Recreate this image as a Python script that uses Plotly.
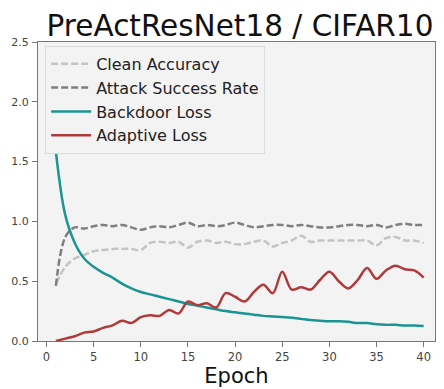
import plotly.graph_objects as go

epochs = list(range(1, 41))

clean_acc = [0.48, 0.62, 0.69, 0.72, 0.75, 0.76, 0.77, 0.77, 0.77, 0.76,
             0.82, 0.83, 0.82, 0.83, 0.78, 0.83, 0.84, 0.82, 0.83, 0.81,
             0.81, 0.83, 0.84, 0.79, 0.82, 0.84, 0.88, 0.83, 0.84, 0.84,
             0.84, 0.84, 0.84, 0.84, 0.80, 0.86, 0.87, 0.84, 0.84, 0.82]

attack_sr = [0.46, 0.87, 0.95, 0.94, 0.96, 0.97, 0.96, 0.97, 0.95, 0.93,
             0.95, 0.96, 0.95, 0.97, 0.99, 0.96, 0.97, 0.96, 0.97, 0.99,
             0.97, 0.95, 0.96, 0.97, 0.97, 0.96, 0.97, 0.96, 0.95, 0.95,
             0.96, 0.97, 0.97, 0.96, 0.97, 0.95, 0.97, 0.98, 0.97, 0.97]

backdoor_loss = [1.58, 1.05, 0.82, 0.69, 0.62, 0.57, 0.53, 0.48, 0.44, 0.41,
                 0.39, 0.37, 0.35, 0.33, 0.31, 0.295, 0.28, 0.265, 0.25, 0.24,
                 0.23, 0.22, 0.21, 0.205, 0.20, 0.195, 0.185, 0.175, 0.17, 0.165,
                 0.165, 0.16, 0.15, 0.15, 0.14, 0.135, 0.135, 0.13, 0.13, 0.125]

adaptive_loss = [0.0, 0.02, 0.04, 0.07, 0.08, 0.11, 0.13, 0.17, 0.15, 0.20,
                 0.215, 0.21, 0.26, 0.23, 0.33, 0.30, 0.315, 0.28, 0.40, 0.37,
                 0.33, 0.41, 0.47, 0.40, 0.58, 0.43, 0.45, 0.43, 0.51, 0.58,
                 0.50, 0.44, 0.51, 0.61, 0.52, 0.59, 0.63, 0.60, 0.59, 0.53]

x_ticks = [0, 5, 10, 15, 20, 25, 30, 35, 40]
y_ticks = [0.0, 0.5, 1.0, 1.5, 2.0, 2.5]

FONT = "DejaVu Sans"

fig = go.Figure()
fig.add_trace(go.Scatter(x=epochs, y=clean_acc, mode="lines", name="Clean Accuracy",
                         line=dict(color="#c4c4c4", width=2.5, dash="7px,3px", shape="spline")))
fig.add_trace(go.Scatter(x=epochs, y=attack_sr, mode="lines", name="Attack Success Rate",
                         line=dict(color="#7f7f7f", width=2.5, dash="7px,3px", shape="spline")))
fig.add_trace(go.Scatter(x=epochs, y=backdoor_loss, mode="lines", name="Backdoor Loss",
                         line=dict(color="#1b9494", width=2.5, shape="spline")))
fig.add_trace(go.Scatter(x=epochs, y=adaptive_loss, mode="lines", name="Adaptive Loss",
                         line=dict(color="#b03a3a", width=2.5, shape="spline")))

fig.update_layout(
    width=444, height=389,
    margin=dict(l=38, r=8, t=42, b=46),
    paper_bgcolor="white",
    plot_bgcolor="#f3f3f3",
    font=dict(family=FONT, color="#444"),
    title=dict(text="PreActResNet18 / CIFAR10", x=240/444, xanchor="center",
               y=(389-26)/389, yanchor="middle",
               font=dict(family=FONT, size=29.5, color="#111")),
    showlegend=True,
    legend=dict(x=0.018, y=0.987, xanchor="left", yanchor="top",
                bgcolor="#f3f3f3", bordercolor="#dadada", borderwidth=1,
                font=dict(family=FONT, size=16, color="#222"),
                itemwidth=40, tracegroupgap=0),
)
fig.update_xaxes(range=[-0.9, 41.2], tickvals=x_ticks, ticktext=[str(v) for v in x_ticks],
                 showgrid=False, zeroline=False, showline=True, linecolor="#777", linewidth=1.2,
                 mirror=True, ticks="outside", ticklen=5, tickcolor="#777",
                 tickfont=dict(family=FONT, size=11.5, color="#444"),
                 title=dict(text="Epoch", standoff=2, font=dict(family=FONT, size=21, color="#111")))
fig.update_yaxes(range=[0, 2.5], tickvals=y_ticks, ticktext=["%.1f" % v for v in y_ticks],
                 showgrid=False, zeroline=False, showline=True, linecolor="#777", linewidth=1.2,
                 mirror=True, ticks="outside", ticklen=5, tickcolor="#777",
                 ticklabelstandoff=1,
                 tickfont=dict(family=FONT, size=11, color="#444"))

fig.write_html("out.html", config={"displayModeBar": False},
               post_script="document.body.style.margin='0px';")
